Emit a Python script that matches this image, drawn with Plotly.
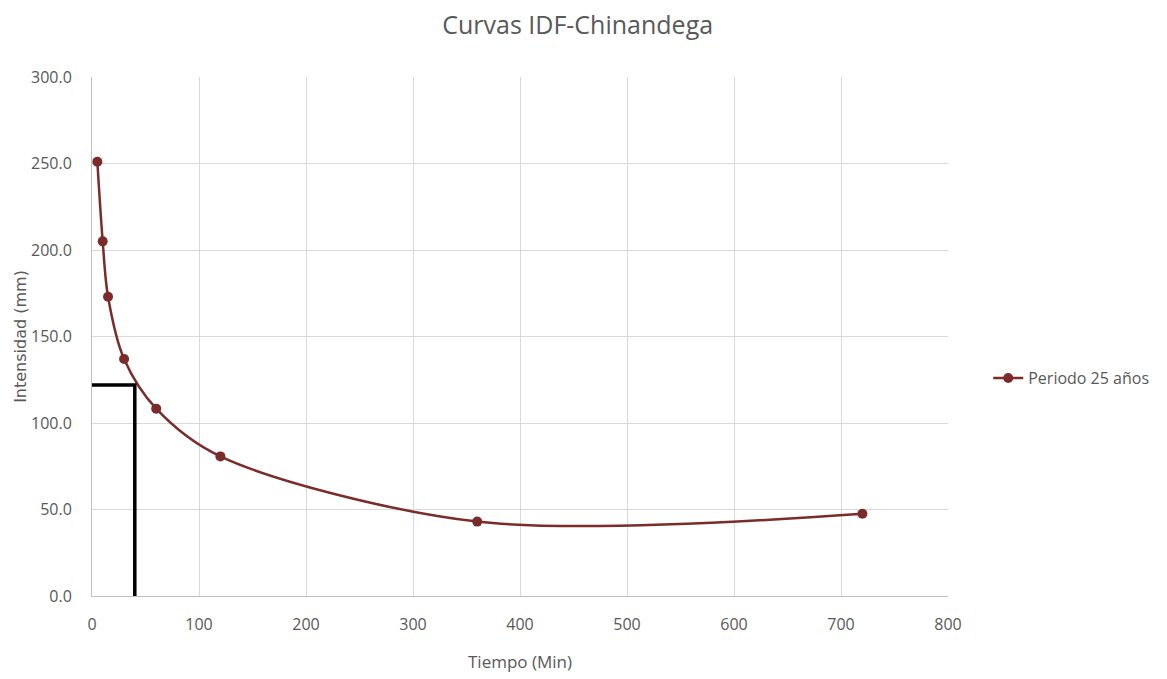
import plotly.graph_objects as go

# Data
tiempo_min = [5, 10, 15, 30, 60, 120, 360, 720]
intensidad_25 = [251, 205, 173, 137, 108.3, 80.7, 43, 47.5]
serie_nombre = "Periodo 25 años"

ref_x = [0, 40, 40]
ref_y = [122, 122, 0]

x_ticks = [0, 100, 200, 300, 400, 500, 600, 700, 800]
y_ticks = [0, 50, 100, 150, 200, 250, 300]

curve_color = "#7B2C2A"
grid_color = "#D9D9D9"
text_color = "#595959"
narrow = "Liberation Sans Narrow, Arial Narrow, Open Sans, sans-serif"

fig = go.Figure()
fig.add_trace(go.Scatter(
    x=tiempo_min, y=intensidad_25, name=serie_nombre,
    mode="lines+markers",
    line=dict(color=curve_color, width=2.5, shape="spline", smoothing=0.9),
    marker=dict(color=curve_color, size=10),
))
fig.add_trace(go.Scatter(
    x=ref_x, y=ref_y, mode="lines", showlegend=False,
    line=dict(color="black", width=3.5), hoverinfo="skip",
))

fig.update_layout(
    width=1167, height=679,
    margin=dict(l=92, r=219, t=77, b=83),
    paper_bgcolor="white", plot_bgcolor="white",
    title=dict(text="Curvas IDF-Chinandega", x=0.495, xanchor="center",
               y=0.963, yanchor="middle",
               font=dict(family=narrow, size=25, color=text_color)),
    legend=dict(x=1.047, y=0.42, xanchor="left", yanchor="middle",
                font=dict(family=narrow, size=16, color=text_color),
                bgcolor="rgba(0,0,0,0)"),
    font=dict(family=narrow, color=text_color),
)
fig.update_xaxes(
    range=[0, 800], tickvals=x_ticks, ticktext=[str(v) for v in x_ticks],
    showgrid=True, gridcolor=grid_color, gridwidth=1,
    showline=True, linecolor="#BFBFBF", linewidth=1, zeroline=False,
    ticks="", ticklabelstandoff=14, automargin=False,
    tickfont=dict(family=narrow, size=16, color=text_color),
    title=dict(text="Tiempo (Min)", standoff=21,
               font=dict(family=narrow, size=17, color=text_color)),
)
fig.update_yaxes(
    range=[0, 300], tickvals=y_ticks, ticktext=[f"{v:.1f}" for v in y_ticks],
    showgrid=True, gridcolor=grid_color, gridwidth=1,
    showline=True, linecolor="#BFBFBF", linewidth=1, zeroline=False,
    ticks="", ticklabelstandoff=16, automargin=False,
    tickfont=dict(family=narrow, size=16, color=text_color),
    title=dict(text="Intensidad (mm)", standoff=0,
               font=dict(family="DejaVu Sans, sans-serif", size=16, color=text_color)),
)

fig.write_html("out.html")
